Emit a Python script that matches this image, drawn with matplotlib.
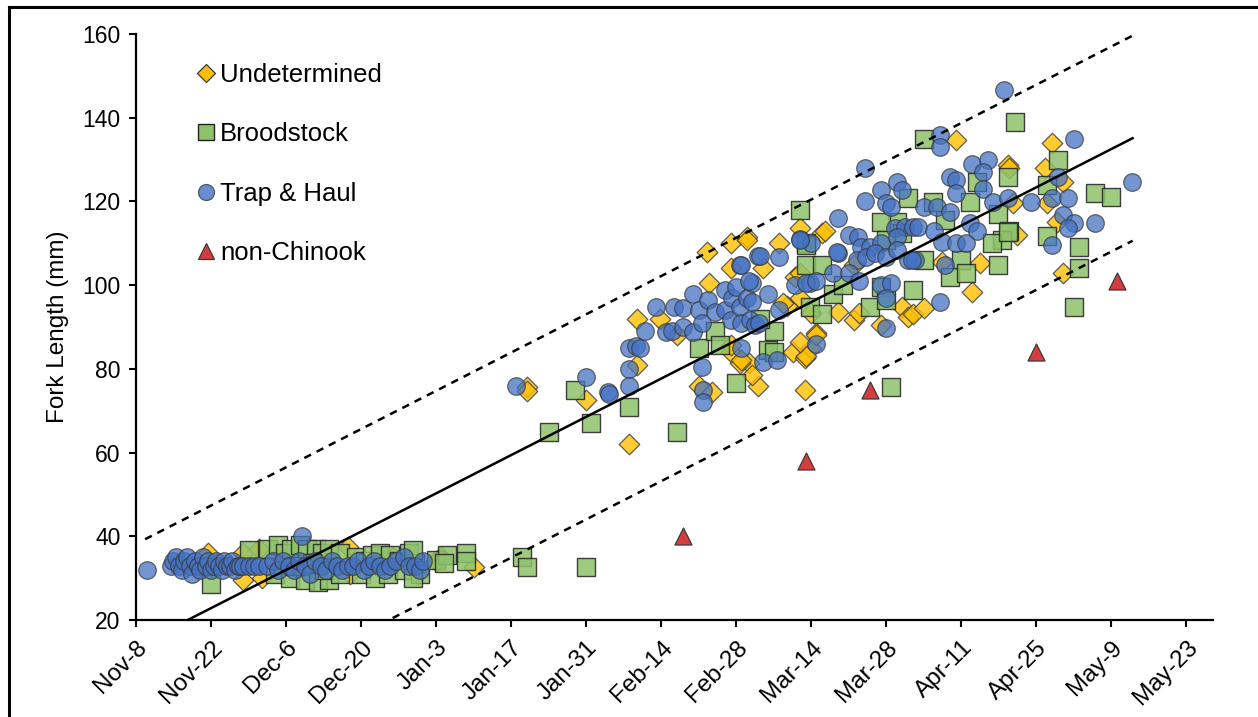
import matplotlib.pyplot as plt
import numpy as np
from matplotlib.lines import Line2D

plt.rcParams['font.family'] = ['Liberation Sans', 'DejaVu Sans']

# x = days after Nov-8, y = fork length (mm)
tick_labels = ["Nov-8", "Nov-22", "Dec-6", "Dec-20", "Jan-3", "Jan-17", "Jan-31", "Feb-14",
               "Feb-28", "Mar-14", "Mar-28", "Apr-11", "Apr-25", "May-9", "May-23"]

undet = [
    (13.5, 36), (20, 36), (20, 29.5), (23, 37), (23.5, 30), (30, 35), (35, 34), (39.6, 37.5), (40, 31),
    (45, 33), (48, 35), (52.6, 31), (56, 34), (57, 35), (63, 32.7),
    (73, 75.6), (73, 74.7), (84, 72.5), (93.5, 81), (92, 62), (93.5, 92), (97.8, 92), (101, 88),
    (106.5, 108), (111, 110), (114, 111.5), (120, 110), (128, 112.5), (117, 104), (111, 104), (107, 100.5),
    (114.5, 81.4), (112.7, 81.4), (116, 76), (105, 76), (107.5, 74.5), (111, 84), (111, 85.7), (121.5, 95),
    (122.6, 84), (124.8, 82.6), (126, 85), (124.8, 75), (127, 88.6), (126, 93.4), (124, 97), (123, 102),
    (115, 78.5), (124, 113.6), (128.5, 113), (114, 110.7), (124, 103), (134, 104.8), (120.7, 95.7),
    (131, 93.6), (134, 91.7), (135, 93.3), (139, 90.4), (143, 94.8), (144, 92.4), (125, 83), (127, 88),
    (124, 86.4), (113, 82), (153, 134.7), (162.7, 128.7), (164.5, 112), (150.5, 105.5), (157.5, 105.3),
    (156, 98.4), (145, 93), (147, 94.5), (171, 134), (163, 128), (169.6, 128), (173, 124.6), (170, 119.6),
    (163.6, 119.6), (171.8, 115), (173, 103),
]
brood = [
    (14, 28.5), (21, 36.7), (24.6, 37), (26.5, 38), (27.8, 36), (29, 37), (30.6, 38), (32, 37), (33.6, 37),
    (34.7, 36), (36, 37), (26, 31), (28.7, 30), (31.5, 29.5), (34, 29), (36, 29.5), (29.7, 33), (32.8, 33.6),
    (35, 32), (38, 36), (38, 31), (41, 35), (42.7, 34), (44, 35.5), (45.5, 36), (47.4, 35.5), (49, 34),
    (51, 36), (52, 33.6), (42, 31), (44.6, 30), (47, 31), (50, 32), (53, 31), (51.7, 36.7), (51.7, 30),
    (56, 34.3), (58, 35.5), (61.6, 36), (61.6, 34), (57.5, 33.6), (72, 35), (73, 32.7), (84, 32.7),
    (77, 65), (82, 75), (85, 67), (92, 71), (101, 65), (105, 85), (112, 76.6),
    (125, 104.8), (128, 104.8), (125.7, 94.8), (128, 93), (130, 98), (119, 89), (116.4, 92), (108, 89),
    (109, 85.7), (118, 84.5), (125, 110), (124, 118), (142, 115), (143, 112.4), (144, 120.8), (139, 115),
    (140, 110.7), (139, 99.5), (137, 94.8), (132, 100), (125, 109.6), (145, 98.8), (141, 75.6), (119, 84),
    (140, 96.5), (164, 139), (147, 135), (162.7, 125.8), (157, 124.6), (148.7, 119.8), (155.6, 119.8),
    (151, 115.6), (160.8, 117), (163, 113), (161.7, 110.7), (159.7, 110), (147, 106), (154, 106),
    (160.8, 104.8), (152, 102), (155, 103), (172, 130), (170, 124), (179, 122), (182, 121), (170, 111.7),
    (162.7, 112.7), (176, 109), (176, 104), (175, 94.8),
]
trap = [
    (2, 32), (6.5, 33), (7, 34), (7.5, 35), (8, 33), (8.5, 32), (9, 34), (9.5, 35), (10, 33), (10.5, 31),
    (11, 34), (11.5, 33), (12, 32), (12.5, 35), (13, 33), (13.5, 34), (14, 32), (14.5, 33), (15, 34),
    (15.5, 33), (16, 32), (16.5, 34), (17, 33), (17.5, 33), (18, 34), (18.5, 32), (19, 33), (19.5, 33),
    (20, 33), (21, 33), (22, 33), (23, 33),
    (24.5, 33), (25.5, 34), (26.5, 32), (27.5, 34), (28.5, 33), (29.5, 32), (30.5, 34), (31, 40), (31.5, 33),
    (32.5, 31), (33.5, 34), (34.5, 33), (35.5, 32), (36.5, 34), (37.5, 33), (38.5, 32), (39.5, 33),
    (40.5, 33), (41.5, 34), (42.5, 32), (43.5, 33), (44.5, 34), (45.5, 33), (46.5, 32), (47.5, 33),
    (48.5, 34), (50, 35), (51, 33), (52, 33), (53, 32), (53.5, 34),
    (71, 76), (84, 78), (88, 74.5), (88.3, 74), (92, 85), (93.3, 85.5), (92, 80), (92, 76), (94, 85),
    (99, 88.8), (100, 89), (100.5, 94.8), (102, 94.5), (102, 90), (104, 88.8), (104, 98), (105, 94),
    (105.6, 91), (106.7, 96.4), (108, 93.5), (110, 98.8), (110, 94), (111, 91.7), (111.3, 97), (112, 99.5),
    (112.7, 104.8), (112.7, 94.8), (113, 91), (113, 85), (114, 97), (114.6, 91.7), (115, 100.5), (115, 96),
    (115.5, 90.5), (116, 107), (116.3, 91), (118, 98), (117, 81.6), (119.6, 82), (120, 106.7), (120, 94),
    (123, 100), (124, 111), (125.7, 100.5), (126, 110), (127, 86), (131, 107.7), (130, 103), (105.6, 80.4),
    (105.8, 75), (105.8, 72), (97, 94.8), (95, 89),
    (136, 128), (139, 122.7), (142, 124.6), (143, 122.7), (140, 119.6), (136, 120), (141, 118.7), (131, 116),
    (133, 112), (134.7, 111.5), (130.8, 108), (135.4, 109), (137, 109), (139, 110), (141.6, 113.6),
    (143.5, 114), (145, 114), (142, 111.5), (134.5, 106), (136.3, 106.7), (138, 107.7), (140, 106.7),
    (142, 108.4), (144, 106), (145.3, 106), (133, 103), (135, 101), (139, 100), (141, 100.5), (140, 97),
    (140, 89.8), (125, 100.5), (127, 101), (124, 110.7), (116.5, 107), (113, 104.8), (114.5, 101),
    (162, 146.6), (150, 135.8), (150, 133), (156, 129), (159, 130), (158, 127), (152, 125.8), (153, 125),
    (158, 123), (153, 122), (160, 119.8), (162.7, 120.8), (167, 119.8), (147, 118.7), (149.5, 118.7),
    (152, 117.5), (146, 114), (149, 113), (155.6, 114.8), (157, 113), (150.5, 110.3), (153, 110), (155, 110),
    (144.8, 106), (151, 104.8), (150, 96),
    (175, 135), (172, 125.8), (185.8, 124.6), (171, 120.8), (174, 120.8), (173, 116.7), (175, 114.8),
    (174, 113.6), (179, 114.8), (171, 109.6),
]
nonck_days = [102, 125, 137, 168, 183]
nonck_mm = [40, 58, 75, 84, 101]

fit_days = [1.7, 186]
fit_mm = [14.8, 135.1]
band = 24.5

fig = plt.figure(figsize=(12.58, 7.17), dpi=100)
ax = fig.add_axes([0.1081, 0.1353, 0.8561, 0.8173])

ec = '#3a3a3a'
ux, uy = zip(*undet)
ax.scatter(ux, uy, marker='D', s=110, c='#FFC000', edgecolors=ec, linewidths=0.9, alpha=0.8,
           label='Undetermined', zorder=3)
bx, by = zip(*brood)
ax.scatter(bx, by, marker='s', s=160, c='#8DC26A', edgecolors='#222222', linewidths=1.0, alpha=0.85,
           label='Broodstock', zorder=4)
tx, ty = zip(*trap)
ax.scatter(tx, ty, marker='o', s=160, c='#4472C4', edgecolors=ec, linewidths=0.9, alpha=0.75,
           label='Trap & Haul', zorder=5)
ax.scatter(nonck_days, nonck_mm, marker='^', s=150, c='#D43D3D', edgecolors=ec, linewidths=0.9,
           label='non-Chinook', zorder=6)

fd = np.array(fit_days)
fm = np.array(fit_mm)
ax.plot(fd, fm, color='black', lw=1.8, zorder=7)
ax.plot(fd, fm + band, color='black', lw=1.8, ls=(0, (3, 2.5)), zorder=7)
ax.plot(fd, fm - band, color='black', lw=1.8, ls=(0, (3, 2.5)), zorder=7)

ax.set_xlim(0, 201)
ax.set_ylim(20, 160)
ax.set_xticks(np.arange(len(tick_labels)) * 14)
ax.set_xticklabels(tick_labels, rotation=45, ha='right', rotation_mode='anchor', fontsize=17.5)
ax.set_yticks(np.arange(20, 161, 20))
ax.tick_params(axis='y', labelsize=16.5, direction='out', length=5, width=1.5, pad=6)
ax.tick_params(axis='x', direction='out', length=5, width=1.5, pad=7)
for s in ['top', 'right']:
    ax.spines[s].set_visible(False)
for s in ['left', 'bottom']:
    ax.spines[s].set_linewidth(1.6)
ax.set_ylabel('Fork Length (mm)', fontsize=17.5, labelpad=10)

handles = [
    Line2D([], [], marker='D', ls='', ms=9, mfc='#FFC000', mec=ec, mew=0.9),
    Line2D([], [], marker='s', ls='', ms=11, mfc='#8DC26A', mec='#222222', mew=1.0),
    Line2D([], [], marker='o', ls='', ms=11.5, mfc='#4472C4', mec=ec, mew=0.9, alpha=0.8),
    Line2D([], [], marker='^', ls='', ms=11, mfc='#D43D3D', mec=ec, mew=0.9),
]
ax.legend(handles, ['Undetermined', 'Broodstock', 'Trap & Haul', 'non-Chinook'], loc='upper left',
          bbox_to_anchor=(0.033, 0.99), frameon=False, fontsize=18.5, labelspacing=1.38,
          handletextpad=0.1, handlelength=0.9)

# outer frame (left and top edges visible)
fig.add_artist(Line2D([9 / 1258, 9 / 1258], [0, 1 - 7 / 717], color='black', lw=2.2))
fig.add_artist(Line2D([9 / 1258, 1], [1 - 7 / 717, 1 - 7 / 717], color='black', lw=2.2))

fig.savefig('out.png', dpi=100)
